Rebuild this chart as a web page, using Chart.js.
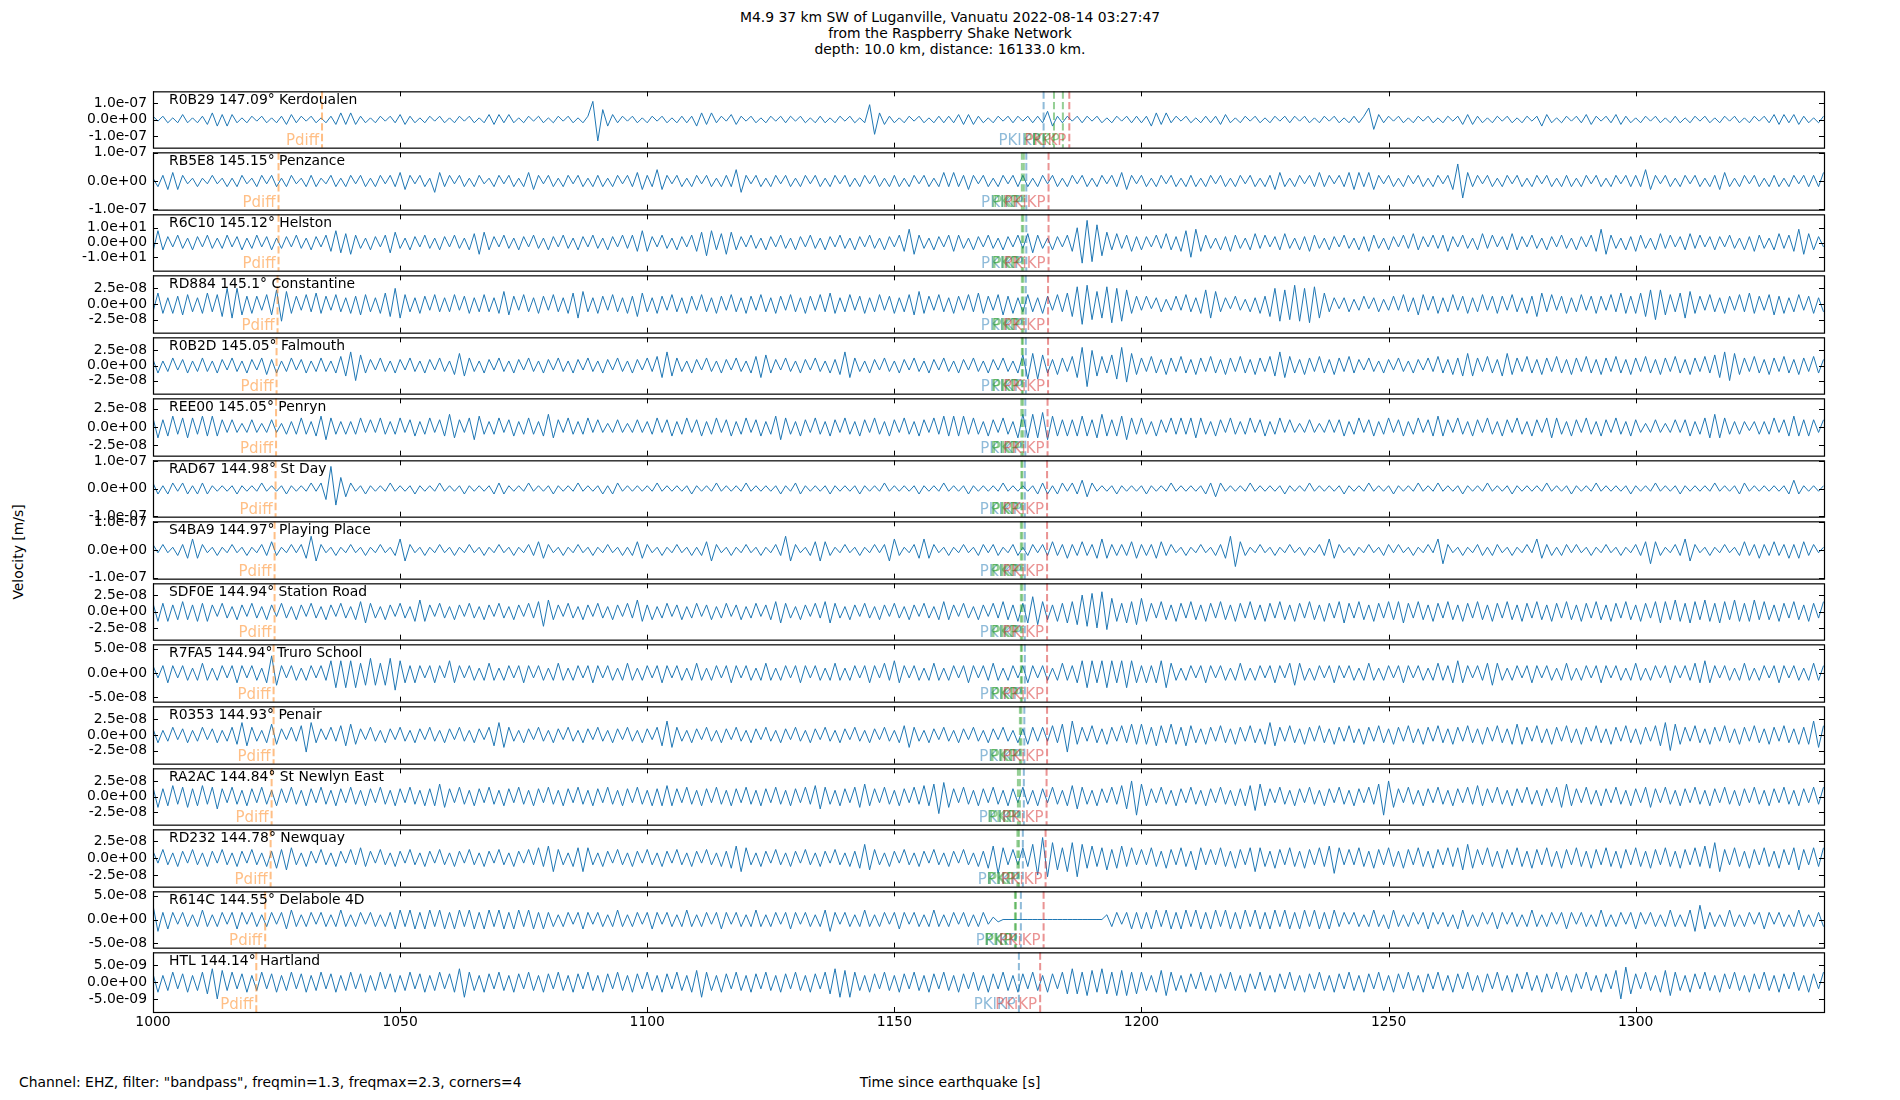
<!DOCTYPE html>
<html>
<head>
<meta charset="utf-8">
<script src="https://cdn.jsdelivr.net/npm/chart.js"></script>
<style>
body{margin:0;background:#fff;}
#fig{position:relative;width:1900px;height:1100px;overflow:hidden;font-family:"DejaVu Sans";color:#000;background:#fff;}
#fig canvas{position:absolute;left:0;}
.txt{position:absolute;font-size:13.9px;line-height:16px;white-space:nowrap;}
</style>
</head>
<body>
<div id="fig">
  <div class="txt" style="top:9px;left:0;width:1900px;text-align:center">M4.9 37 km SW of Luganville, Vanuatu 2022-08-14 03:27:47<br>from the Raspberry Shake Network<br>depth: 10.0 km, distance: 16133.0 km.</div>
  <div class="txt" style="top:1074px;left:19px">Channel: EHZ, filter: "bandpass", freqmin=1.3, freqmax=2.3, corners=4</div>
  <div class="txt" style="top:1074px;left:0;width:1900px;text-align:center">Time since earthquake [s]</div>
  <div class="txt" style="left:17.5px;top:551.5px;transform:translate(-50%,-50%) rotate(-90deg)">Velocity [m/s]</div>
</div>
<script>
// samples: one value per second from t0, in tenths of each panel's tick step
const t0 = 1000, dt = 1;
const xMin = 1000, xMax = 1338.1;
const xTicks = [1000, 1050, 1100, 1150, 1200, 1250, 1300];

const stations = ['R0B29 147.09° Kerdoualen', 'RB5E8 145.15° Penzance', 'R6C10 145.12° Helston',
  'RD884 145.1° Constantine', 'R0B2D 145.05° Falmouth', 'REE00 145.05° Penryn', 'RAD67 144.98° St Day',
  'S4BA9 144.97° Playing Place', 'SDF0E 144.94° Station Road', 'R7FA5 144.94° Truro School',
  'R0353 144.93° Penair', 'RA2AC 144.84° St Newlyn East', 'RD232 144.78° Newquay',
  'R614C 144.55° Delabole 4D', 'HTL 144.14° Hartland'];

const units = [1e-8, 1e-8, 1, 2.5e-9, 2.5e-9, 2.5e-9, 1e-8, 1e-8, 2.5e-9, 5e-9, 2.5e-9, 2.5e-9, 2.5e-9, 5e-9, 5e-10];
const yLims = [1.71e-7, 1.01e-7, 19.1, 4.58e-8, 4.67e-8, 3.95e-8, 1.02e-7, 1.04e-7, 4.28e-8, 5.85e-8, 4.62e-8, 4.53e-8, 4.2e-8, 5.93e-8, 8.9e-9];
const yTicks = [[1e-7, 0, -1e-7], [1e-7, 0, -1e-7], [10, 0, -10], [2.5e-8, 0, -2.5e-8], [2.5e-8, 0, -2.5e-8],
  [2.5e-8, 0, -2.5e-8], [1e-7, 0, -1e-7], [1e-7, 0, -1e-7], [2.5e-8, 0, -2.5e-8], [5e-8, 0, -5e-8],
  [2.5e-8, 0, -2.5e-8], [2.5e-8, 0, -2.5e-8], [2.5e-8, 0, -2.5e-8], [5e-8, 0, -5e-8], [5e-9, 0, -5e-9]];

// phase arrival times per panel [s]
const pdiffT = [1034.2, 1025.4, 1025.4, 1025.2, 1025.0, 1024.9, 1024.8, 1024.6, 1024.6, 1024.4, 1024.4, 1024.0, 1023.8, 1022.7, 1020.9];
const pkikpT = [1180.2, 1176.7, 1176.7, 1176.6, 1176.6, 1176.5, 1176.4, 1176.4, 1176.4, 1176.4, 1176.3, 1176.2, 1176.0, 1175.6, 1175.2];
const pkpT1 = [1182.3, 1175.8, 1175.8, 1175.8, 1175.8, 1175.7, 1175.7, 1175.6, 1175.6, 1175.6, 1175.4, 1175.0, 1174.9, 1174.4, null];
const pkpT2 = [1184.1, 1176.2, 1176.1, 1176.1, 1176.0, 1176.0, 1175.9, 1175.9, 1175.9, 1175.8, 1175.7, 1175.4, 1175.2, 1174.6, null];
const pkikp2T = [1185.4, 1181.2, 1181.2, 1181.1, 1181.1, 1181.0, 1180.9, 1180.9, 1180.9, 1180.9, 1180.9, 1180.8, 1180.6, 1180.2, 1179.5];

const r0b29 = [2,-1,2,-2,1,-2,3,-2,1,-2,2,-3,4,-4,3,-4,3,-2,1,-2,
2,-1,2,-2,1,-2,2,-3,3,-2,2,-1,2,-2,1,-2,2,-3,4,-3,
4,-3,2,-2,1,-2,2,-1,2,-2,3,-3,2,-2,1,-2,2,-1,2,-2,
1,-2,2,-1,2,-2,1,-2,3,-3,3,-2,3,-2,1,-2,2,-1,2,-2,
1,-2,2,-1,2,-2,1,-2,2,11,-13,6,-4,3,-2,2,-1,2,-2,1,
-2,2,-1,2,-2,1,-2,2,-2,2,-4,4,-3,4,-2,2,-1,3,-3,2,
-1,2,-2,1,-2,2,-1,2,-2,2,-1,2,-2,1,-2,2,-2,1,-2,2,
-1,2,-2,1,-2,9,-9,4,-3,2,-2,1,-2,2,-1,2,-2,1,-2,2,
-2,2,-2,3,-3,3,-3,2,-2,1,-2,2,-1,2,-2,2,-1,2,-2,2,
-2,5,-4,2,-2,2,-1,2,-2,2,-1,2,-2,1,-2,2,-1,2,-2,2,
-2,2,-4,4,-3,4,-2,2,-1,2,-2,1,-2,2,-2,2,-3,3,-2,1,
-2,2,-1,2,-2,1,-2,2,-1,2,-2,2,-1,2,-2,1,-2,2,-1,2,
-2,1,-2,2,-2,2,7,-6,3,-2,2,-1,2,-2,1,-2,2,-1,2,-2,
1,-2,2,-1,2,-3,3,-3,2,-2,1,-2,2,-1,2,-2,1,-2,2,-1,
2,-4,3,-2,1,-2,2,-1,2,-2,3,-3,2,-1,2,-2,3,-3,2,-2,
1,-2,2,-1,2,-2,1,-2,2,-2,1,-2,2,-1,2,-2,1,-2,2,-1,
2,-2,1,-2,2,-1,2,-2,3,-3,3,-2,3,-3,2,-2,1,-2,2];

const rb5e8 = [1,-2,2,-3,3,-3,2,-1,1,-2,1,-1,2,-1,1,-2,1,-2,2,-1,
1,-2,2,-1,2,-2,1,-2,2,-1,1,-2,2,-2,1,-1,2,-2,1,-2,
2,-1,2,-2,1,-2,2,-1,2,-2,3,-3,2,-1,2,-2,1,-4,3,-2,
2,-1,2,-2,1,-2,2,-1,1,-2,2,-1,2,-2,1,-2,3,-3,2,-1,
2,-2,1,-2,2,-1,2,-2,1,-2,2,-2,1,-2,2,-1,2,-2,3,-3,
2,-2,4,-3,2,-1,2,-2,1,-2,2,-1,2,-2,1,-2,2,-2,4,-4,
2,-1,2,-2,1,-2,2,-1,2,-2,1,-2,2,-1,2,-2,1,-2,2,-1,
2,-2,1,-2,2,-1,2,-2,1,-2,2,-2,1,-2,2,-1,2,-2,1,-2,
3,-2,3,-2,2,-3,2,-1,2,-2,1,-2,2,-1,2,-2,2,-2,1,-2,
2,-1,2,-2,1,-2,2,-1,2,-2,1,-2,2,-1,2,-2,3,-3,2,-1,
2,-2,1,-2,2,-1,2,-2,1,-2,2,-2,1,-2,2,-1,2,-2,1,-2,
2,-1,2,-2,1,-2,2,-3,3,-2,1,-2,2,-1,2,-2,3,-2,2,-1,
2,-2,3,-3,3,-2,3,-3,2,-1,2,-2,1,-2,2,-1,2,-2,1,-2,
2,-1,2,-3,6,-6,3,-2,2,-1,2,-2,1,-2,2,-1,2,-2,1,-2,
2,-1,2,-2,1,-2,2,-2,1,-2,2,-1,2,-2,1,-2,2,-1,2,-2,
2,-2,4,-3,2,-1,2,-2,1,-2,2,-1,2,-2,1,-2,2,-3,3,-2,
1,-2,2,-1,2,-2,1,-2,2,-2,1,-2,2,-1,2,-2,2,-2,3];

const r6c10 = [-6,8,-5,4,-3,5,-4,3,-5,4,-3,5,-4,3,-4,5,-3,4,-5,3,
-4,5,-3,4,-5,3,-4,4,-3,5,-4,3,-5,4,-3,5,-6,8,-7,6,
-8,5,-4,3,-5,4,-3,5,-7,7,-4,3,-5,4,-3,5,-4,3,-5,4,
-3,5,-4,3,-5,6,-8,7,-5,4,-3,5,-4,3,-5,4,-3,5,-4,3,
-5,4,-3,5,-4,3,-5,4,-3,5,-4,3,-5,4,-3,5,-4,5,-6,8,
-6,4,-3,5,-4,3,-5,4,-3,5,-6,7,-9,8,-5,6,-8,7,-5,4,
-3,5,-4,3,-5,4,-3,5,-4,3,-5,4,-3,5,-4,3,-5,4,-3,5,
-4,3,-5,4,-3,5,-4,3,-5,4,-3,5,-6,9,-8,5,-4,3,-5,4,
-3,5,-6,5,-4,3,-5,4,-3,5,-4,3,-5,4,-3,5,-4,6,-7,5,
-4,3,-5,4,-3,5,-6,10,-14,15,-13,12,-9,7,-5,6,-4,5,-6,4,
-5,4,-3,5,-4,6,-5,4,-6,8,-10,9,-6,5,-4,3,-5,4,-6,5,
-4,3,-5,6,-4,5,-3,4,-5,6,-4,3,-5,4,-6,5,-4,3,-5,4,
-3,5,-4,3,-5,4,-6,5,-4,3,-5,4,-3,5,-4,6,-5,4,-3,5,
-4,5,-6,4,-3,5,-4,3,-5,6,-4,5,-3,4,-5,6,-5,4,-3,5,
-4,3,-5,4,-3,5,-4,3,-5,4,-3,5,-6,9,-8,5,-4,3,-5,4,
-6,5,-4,3,-5,6,-4,5,-3,4,-5,6,-4,5,-3,4,-5,4,-3,5,
-4,3,-5,4,-6,5,-4,3,-5,6,-4,5,-6,9,-8,6,-5,4,-3];

const rd884 = [-5,7,-6,4,-6,5,-7,6,-5,4,-6,7,-5,6,-8,10,-9,10,-7,5,
-6,5,-4,6,-7,9,-11,8,-6,5,-4,6,-5,7,-6,5,-4,6,-5,4,
-6,5,-7,6,-5,4,-6,7,-8,10,-9,6,-5,4,-6,5,-4,6,-5,4,
-5,6,-4,5,-6,4,-5,6,-5,4,-6,8,-7,5,-4,6,-5,4,-6,5,
-4,6,-5,4,-6,7,-9,8,-5,4,-6,5,-4,6,-5,4,-6,5,-8,7,
-5,4,-6,5,-4,6,-5,4,-6,5,-4,6,-5,4,-6,5,-4,6,-5,4,
-6,5,-4,6,-5,4,-6,5,-4,6,-5,4,-6,5,-4,6,-5,7,-6,4,
-5,6,-4,5,-6,4,-5,6,-4,5,-6,4,-5,6,-7,8,-6,5,-4,6,
-5,4,-6,5,-4,6,-5,7,-6,5,-4,6,-7,5,-6,4,-5,6,-5,4,
-6,5,-4,6,-5,7,-8,11,-13,12,-10,8,-9,11,-12,10,-11,9,-6,5,
-4,5,-3,4,-5,3,-4,5,-4,6,-5,4,-6,9,-9,8,-5,4,-3,5,
-4,3,-5,4,-6,5,-8,10,-11,9,-10,12,-11,10,-12,11,-9,7,-5,4,
-3,4,-5,3,-4,5,-3,4,-5,3,-4,5,-4,6,-5,4,-7,6,-4,5,
-6,4,-5,6,-4,5,-6,4,-5,6,-4,5,-6,5,-4,6,-5,4,-6,5,
-8,7,-5,6,-4,5,-6,4,-5,6,-4,5,-6,5,-4,6,-5,7,-6,5,
-6,7,-8,9,-10,9,-7,6,-5,7,-9,8,-6,5,-4,6,-5,4,-6,5,
-4,6,-5,7,-6,5,-4,6,-7,5,-6,4,-5,6,-4,5,-6,4,-5];

const r0b2d = [4,-5,3,-4,5,-3,4,-5,3,-4,5,-4,3,-5,4,-3,5,-4,3,-5,
4,-3,5,-6,4,-5,3,-4,5,-3,4,-5,3,-4,5,-4,3,-5,6,-7,
9,-10,7,-5,4,-3,5,-4,3,-5,4,-3,5,-4,3,-5,4,-3,5,-4,
3,-6,8,-7,5,-4,3,-5,4,-3,5,-4,3,-5,4,-3,5,-4,3,-5,
4,-3,5,-4,3,-5,4,-3,5,-4,3,-5,4,-3,5,-4,3,-5,4,-3,
5,-4,6,-8,9,-7,5,-4,3,-5,4,-3,5,-4,3,-5,4,-3,5,-4,
3,-5,6,-8,7,-5,4,-3,5,-4,3,-5,4,-3,5,-4,3,-5,4,-6,
9,-8,5,-4,3,-5,4,-3,5,-4,3,-5,4,-3,5,-4,3,-5,4,-3,
5,-4,3,-5,4,-3,5,-4,3,-5,4,-3,5,-4,3,-5,7,-9,8,-9,
7,-5,4,-6,5,-4,6,-8,12,-14,10,-7,6,-5,7,-9,12,-11,8,-6,
5,-4,6,-5,4,-6,5,-4,6,-5,4,-6,5,-4,6,-5,4,-6,5,-4,
6,-5,4,-6,5,-4,6,-7,9,-8,6,-5,4,-6,5,-4,6,-5,4,-6,
5,-4,6,-5,4,-3,5,-4,3,-5,4,-3,5,-4,3,-5,4,-3,5,-4,
6,-5,4,-6,5,-7,8,-7,5,-4,6,-5,4,-7,8,-6,5,-4,6,-5,
4,-6,5,-4,6,-5,4,-6,5,-4,6,-5,4,-6,5,-4,6,-5,4,-6,
5,-4,6,-5,4,-6,5,-4,6,-5,4,-6,5,-4,6,-5,7,-8,9,-10,
8,-6,5,-4,6,-5,4,-6,5,-4,6,-5,4,-6,5,-4,6,-5,4];

const ree00 = [5,-6,4,-5,6,-4,5,-6,5,-4,6,-5,6,-5,4,-3,4,-3,2,-3,
4,-3,2,-3,4,-3,2,-4,3,-4,5,-4,3,-5,6,-7,5,-4,3,-4,
3,-4,5,-3,4,-3,5,-4,3,-4,5,-3,4,-5,3,-4,5,-3,4,-5,
7,-6,4,-3,5,-7,6,-4,3,-4,5,-3,4,-5,3,-4,5,-4,3,-5,
7,-6,4,-3,5,-4,3,-4,5,-3,4,-3,2,-3,4,-3,2,-3,4,-3,
3,-4,5,-3,4,-5,3,-4,5,-3,4,-5,3,-4,5,-3,4,-5,3,-4,
5,-3,4,-5,3,-4,6,-7,5,-4,3,-5,4,-3,5,-4,3,-5,4,-3,
5,-4,3,-5,4,-3,5,-4,3,-5,4,-3,5,-4,3,-5,4,-3,5,-4,
6,-5,6,-5,6,-4,5,-4,3,-5,4,-3,5,-4,3,-6,7,-6,7,-6,
8,-7,6,-5,4,-5,4,-5,6,-5,4,-6,7,-5,4,-5,6,-7,5,-4,
5,-4,3,-5,4,-3,5,-4,5,-4,5,-6,5,-4,3,-5,4,-3,5,-4,
3,-4,5,-3,4,-5,3,-4,5,-3,4,-3,2,-3,4,-3,2,-3,4,-3,
4,-5,3,-4,5,-3,4,-5,3,-4,5,-3,4,-5,3,-4,5,-3,4,-5,
6,-5,4,-3,5,-4,3,-5,4,-3,5,-4,3,-5,4,-3,5,-4,3,-5,
4,-3,5,-6,5,-4,3,-5,4,-3,5,-4,3,-5,4,-3,5,-4,3,-5,
4,-3,2,-3,4,-3,2,-3,4,-3,4,-5,3,-4,5,-6,7,-6,5,-4,
3,-4,3,-2,3,-4,3,-4,5,-3,4,-5,6,-5,4,-5,4,-3,4];

const rad67 = [2,-2,1,-2,2,-1,2,-2,1,-2,2,-2,1,-1,1,-1,1,-2,1,-1,
1,-1,2,-1,1,-1,1,-2,1,-1,1,-1,2,-1,2,-4,8,-6,4,-3,
2,-1,1,-2,1,-1,1,-1,2,-1,1,-1,1,-2,1,-1,1,-1,2,-1,
1,-1,1,-2,1,-1,1,-1,1,-2,2,-2,1,-1,1,-1,2,-1,1,-1,
1,-2,1,-1,1,-1,2,-1,1,-1,1,-2,1,-2,2,-1,1,-1,1,-1,
1,-1,2,-1,1,-1,1,-1,1,-2,1,-1,1,-1,2,-1,1,-1,1,-1,
2,-1,1,-1,1,-1,1,-2,1,-1,2,-2,1,-1,1,-1,1,-2,1,-1,
1,-1,1,-2,1,-1,1,-1,2,-1,1,-1,1,-1,1,-2,1,-1,1,-1,
2,-1,1,-1,1,-2,1,-1,1,-1,1,-1,2,-1,1,-1,1,-1,1,-2,
2,-2,1,-2,2,-1,2,-2,3,-3,2,-1,1,-1,1,-2,1,-1,1,-1,
1,-2,1,-1,1,-1,2,-1,1,-1,1,-1,1,-2,2,-3,2,-1,1,-1,
1,-1,2,-1,1,-1,1,-1,1,-2,1,-1,1,-1,2,-1,1,-1,1,-1,
1,-2,1,-1,1,-1,2,-1,1,-1,1,-2,1,-1,1,-1,2,-1,1,-1,
2,-1,1,-1,1,-2,1,-1,1,-1,2,-1,1,-1,1,-2,1,-1,1,-1,
1,-1,2,-1,1,-1,1,-2,1,-1,1,-1,2,-1,1,-1,1,-1,1,-2,
1,-1,1,-1,2,-1,1,-1,1,-2,1,-1,1,-1,1,-1,2,-1,1,-1,
1,-2,2,-1,1,-1,1,-1,1,-1,1,-2,3,-2,1,-1,1,-1,1];

const s4ba9 = [2,-1,2,-1,1,-2,2,-3,4,-3,2,-1,1,-2,1,-1,2,-1,1,-2,
1,-1,2,-2,3,-2,1,-1,2,-1,2,-3,5,-4,2,-1,1,-2,1,-1,
2,-1,1,-2,1,-1,2,-1,1,-2,4,-4,2,-1,1,-2,1,-1,2,-1,
1,-2,1,-1,2,-1,1,-2,1,-1,2,-1,1,-2,1,-1,2,-2,3,-3,
2,-1,1,-2,1,-1,2,-1,1,-2,1,-1,2,-1,1,-2,1,-2,3,-3,
2,-1,1,-2,1,-1,2,-1,1,-2,1,-2,3,-4,2,-1,1,-2,1,-1,
2,-1,1,-2,1,-1,2,-2,5,-4,2,-1,1,-2,3,-4,3,-2,1,-1,
2,-1,1,-2,1,-1,2,-1,2,-4,4,-2,1,-1,2,-3,4,-3,2,-1,
1,-2,1,-1,2,-1,1,-2,2,-1,2,-2,1,-1,2,-2,1,-2,2,-1,
2,-2,3,-2,2,-3,2,-2,3,-2,2,-3,4,-3,2,-2,2,-2,3,-3,
2,-2,2,-3,3,-2,2,-1,1,-2,1,-1,2,-1,1,-2,2,-3,5,-6,
3,-2,1,-1,2,-1,1,-2,1,-1,2,-1,1,-2,1,-1,2,-2,4,-3,
2,-1,1,-2,1,-1,2,-1,1,-2,2,-1,2,-1,1,-2,1,-1,2,-1,
4,-5,2,-1,1,-2,1,-1,2,-2,1,-2,2,-1,1,-2,1,-1,2,-1,
4,-3,2,-2,1,-2,2,-1,2,-1,1,-2,1,-1,2,-1,1,-2,1,-1,
2,-2,3,-5,3,-2,1,-1,2,-2,4,-4,2,-1,1,-2,1,-1,2,-1,
1,-2,3,-2,2,-3,2,-2,3,-2,2,-3,2,-3,3,-2,2,-1,1];

const sdf0e = [5,-6,5,-6,4,-5,6,-5,4,-6,5,-6,4,-3,5,-4,3,-5,4,-3,
5,-4,3,-5,4,-3,5,-4,3,-5,4,-3,5,-4,3,-5,4,-3,5,-4,
3,-5,6,-7,5,-4,3,-5,4,-3,5,-4,3,-6,7,-6,4,-3,5,-4,
3,-5,4,-3,5,-4,3,-5,4,-3,5,-4,3,-5,4,-3,5,-4,6,-9,
7,-5,4,-3,5,-4,3,-5,4,-3,5,-4,3,-5,4,-3,5,-4,7,-6,
4,-5,3,-4,5,-3,4,-5,3,-4,5,-3,4,-5,3,-4,5,-3,4,-5,
3,-4,5,-3,4,-5,6,-7,5,-4,3,-5,4,-3,5,-4,6,-7,5,-4,
3,-5,4,-3,5,-4,3,-5,4,-3,5,-4,3,-5,4,-3,5,-4,3,-5,
6,-5,4,-3,5,-4,3,-5,4,-3,5,-4,6,-5,4,-6,5,-7,9,-8,
6,-5,4,-6,5,-7,6,-8,10,-9,11,-10,12,-11,8,-6,5,-7,6,-8,
8,-6,5,-4,6,-5,4,-6,5,-4,6,-5,4,-6,5,-4,6,-5,4,-6,
5,-4,6,-5,4,-6,5,-4,6,-5,4,-6,5,-4,6,-5,4,-6,5,-4,
6,-7,5,-4,6,-5,4,-6,5,-4,6,-5,6,-7,5,-4,6,-5,4,-6,
5,-4,6,-5,4,-6,5,-4,6,-5,4,-6,5,-4,6,-5,4,-6,5,-4,
6,-5,4,-6,5,-4,6,-5,4,-6,5,-4,6,-5,4,-6,5,-4,6,-5,
4,-6,5,-4,6,-7,6,-5,7,-6,5,-7,6,-5,7,-6,5,-7,6,-5,
7,-6,5,-6,7,-5,6,-5,4,-6,5,-4,6,-5,4,-6,5,-4,6];

const r7fa5 = [3,-2,3,-4,3,-2,3,-3,2,-3,4,-3,2,-3,3,-2,3,-4,3,-2,
3,-3,2,-4,7,-5,3,-2,3,-3,2,-3,3,-2,3,-3,5,-6,5,-6,
5,-6,4,-5,6,-5,4,-5,6,-7,5,-4,3,-4,3,-2,3,-4,3,-2,
5,-4,3,-2,3,-3,2,-3,4,-3,2,-3,3,-2,3,-4,3,-2,3,-3,
2,-3,4,-3,2,-3,3,-2,3,-4,3,-2,3,-3,2,-3,4,-3,2,-3,
3,-2,3,-4,3,-2,3,-3,2,-3,4,-3,2,-3,3,-2,3,-4,3,-2,
3,-3,2,-3,4,-3,2,-3,3,-2,3,-4,3,-2,3,-3,2,-3,4,-3,
2,-3,3,-2,3,-4,3,-2,4,-3,5,-4,3,-2,3,-3,2,-3,4,-3,
2,-3,3,-2,3,-4,3,-2,3,-3,4,-3,2,-3,3,-2,3,-4,3,-2,
3,-3,2,-3,4,-3,3,-4,5,-6,5,-4,5,-6,5,-4,5,-6,5,-4,
3,-4,3,-4,5,-6,4,-3,2,-3,3,-2,3,-4,3,-2,3,-3,2,-3,
4,-3,2,-3,3,-2,3,-4,3,-2,4,-5,4,-3,2,-3,3,-2,3,-4,
3,-2,3,-3,2,-3,4,-3,2,-3,3,-2,3,-4,3,-2,3,-3,2,-3,
4,-3,3,-4,5,-4,3,-2,3,-3,4,-5,4,-3,2,-3,3,-2,3,-4,
3,-2,3,-3,2,-3,4,-3,2,-3,3,-2,3,-4,3,-2,3,-3,2,-3,
4,-3,2,-3,3,-2,3,-4,3,-2,3,-3,4,-4,5,-4,3,-2,3,-3,
2,-3,4,-3,2,-3,3,-2,3,-4,3,-2,3,-3,2,-3,4,-3,3];

const r0353 = [4,-5,3,-4,5,-3,4,-5,3,-4,5,-3,4,-5,3,-4,5,-6,8,-7,
5,-4,3,-5,7,-6,4,-3,5,-4,6,-11,8,-5,4,-3,5,-4,6,-7,
7,-6,4,-3,5,-4,3,-5,4,-3,5,-4,3,-5,4,-3,5,-4,3,-5,
4,-3,5,-4,3,-5,4,-3,5,-7,8,-8,5,-4,3,-5,4,-3,5,-4,
3,-5,4,-3,5,-4,3,-5,4,-3,5,-4,3,-5,4,-3,5,-4,3,-5,
4,-3,5,-7,9,-8,5,-4,3,-5,4,-3,5,-4,3,-5,4,-3,5,-4,
3,-5,4,-3,5,-4,3,-5,4,-3,5,-4,3,-5,4,-3,5,-4,3,-5,
4,-3,5,-4,3,-5,4,-3,5,-4,3,-5,6,-8,5,-4,3,-5,4,-3,
5,-4,3,-5,4,-3,5,-4,3,-5,4,-3,5,-4,3,-5,4,-6,5,-4,
5,-4,6,-5,7,-11,9,-6,5,-4,6,-5,4,-6,5,-4,6,-5,7,-6,
7,-6,5,-7,6,-5,7,-6,5,-7,6,-5,4,-6,5,-4,6,-5,4,-6,
5,-4,6,-5,4,-6,8,-7,5,-4,6,-5,4,-6,5,-4,6,-5,4,-6,
5,-4,6,-5,4,-6,5,-4,6,-5,4,-6,5,-4,6,-5,4,-6,5,-4,
6,-5,4,-6,5,-4,6,-5,4,-6,5,-4,6,-5,4,-6,7,-6,5,-4,
6,-5,4,-6,5,-4,6,-5,4,-6,5,-4,6,-5,4,-6,5,-4,6,-5,
4,-6,5,-4,6,-7,8,-10,7,-6,5,-4,6,-5,4,-6,5,-4,6,-5,
4,-6,5,-4,6,-5,4,-6,5,-4,6,-5,4,-6,5,-6,9,-8,6];

const ra2ac = [6,-7,5,-6,7,-5,6,-7,5,-6,7,-5,6,-8,5,-4,6,-5,4,-6,
5,-4,6,-5,4,-6,5,-4,6,-5,4,-6,5,-4,6,-5,4,-6,5,-4,
6,-5,4,-6,5,-4,6,-5,4,-6,5,-4,6,-5,4,-6,5,-6,8,-7,
5,-4,6,-5,4,-6,5,-4,6,-5,4,-6,5,-4,6,-5,4,-6,5,-4,
6,-5,4,-6,5,-4,6,-5,4,-6,5,-4,6,-5,4,-6,5,-4,6,-5,
4,-6,5,-6,7,-6,5,-4,6,-5,4,-6,5,-4,6,-5,4,-6,5,-4,
6,-5,4,-6,5,-4,6,-5,4,-6,5,-4,6,-5,7,-8,6,-5,4,-6,
5,-4,6,-7,8,-6,5,-4,6,-5,4,-6,5,-4,6,-5,7,-6,8,-11,
9,-7,5,-4,6,-5,4,-6,5,-4,6,-5,4,-6,5,-4,6,-5,4,-6,
5,-4,6,-5,4,-6,7,-8,6,-5,4,-6,5,-4,6,-5,7,-8,10,-12,
8,-6,5,-4,6,-5,4,-6,5,-4,6,-5,4,-6,5,-4,6,-5,4,-6,
5,-6,7,-9,8,-6,5,-4,6,-5,4,-6,5,-4,6,-5,4,-6,5,-4,
6,-5,4,-6,5,-4,6,-5,8,-12,10,-7,5,-4,6,-5,4,-6,5,-4,
6,-5,4,-6,5,-4,6,-5,7,-6,5,-4,6,-5,4,-6,5,-4,6,-5,
4,-6,5,-4,6,-7,8,-6,5,-4,6,-5,4,-6,5,-4,6,-5,4,-6,
5,-4,6,-7,5,-4,6,-5,4,-6,5,-4,6,-5,4,-6,5,-4,6,-5,
4,-6,5,-4,6,-5,4,-6,5,-4,6,-5,4,-6,5,-4,6,-5,6];

const rd232 = [4,-3,5,-4,3,-5,4,-3,5,-4,3,-5,4,-3,5,-4,3,-5,4,-3,
5,-4,3,-5,4,-6,5,-7,6,-4,3,-5,4,-3,5,-4,3,-5,4,-3,
5,-4,6,-5,4,-3,5,-4,3,-5,4,-3,5,-4,3,-5,4,-3,5,-4,
3,-5,4,-3,5,-4,3,-5,4,-3,5,-4,3,-5,4,-3,5,-4,6,-5,
7,-8,5,-4,3,-5,6,-8,6,-4,3,-5,4,-3,5,-4,3,-5,4,-3,
5,-4,3,-5,4,-3,5,-4,3,-5,4,-3,5,-4,3,-5,4,-6,7,-8,
6,-4,3,-5,4,-3,5,-4,3,-5,4,-3,5,-4,3,-5,4,-3,5,-4,
3,-5,4,-6,8,-7,5,-4,3,-5,4,-3,5,-4,3,-5,4,-3,5,-4,
3,-5,4,-3,5,-4,3,-5,4,-6,7,-9,6,-4,5,-4,6,-5,8,-10,
12,-11,9,-7,6,-8,9,-11,8,-6,7,-5,6,-7,5,-6,7,-5,6,-4,
5,-4,6,-5,4,-6,5,-4,6,-5,4,-7,6,-4,5,-4,6,-5,4,-6,
5,-4,6,-8,6,-5,4,-6,5,-4,6,-5,4,-6,5,-4,6,-5,7,-9,
6,-4,5,-4,6,-5,4,-6,5,-4,6,-5,4,-6,5,-4,6,-5,4,-6,
5,-4,6,-5,6,-7,8,-6,5,-4,6,-5,4,-6,5,-4,6,-5,4,-6,
5,-4,6,-5,4,-6,5,-4,6,-5,4,-6,5,-4,6,-5,4,-6,5,-4,
6,-5,4,-6,5,-4,6,-5,4,-6,5,-4,6,-5,7,-6,9,-8,5,-4,
6,-5,4,-6,5,-4,6,-5,4,-6,5,-4,6,-7,5,-4,6,-5,6];

const r614c = [6,-5,3,-4,3,-2,3,-3,2,-3,4,-3,2,-3,3,-2,3,-4,3,-2,
3,-3,2,-3,3,-2,3,-4,4,-3,2,-3,3,-2,3,-3,2,-3,4,-3,
2,-3,3,-2,3,-3,2,-3,3,-4,4,-3,4,-4,3,-4,4,-3,4,-4,
3,-4,4,-3,4,-4,3,-4,4,-3,4,-4,3,-4,4,-3,4,-4,3,-4,
3,-3,2,-3,3,-2,3,-4,3,-2,3,-3,2,-3,4,-3,2,-3,3,-2,
3,-4,3,-2,3,-3,2,-3,4,-3,2,-3,3,-2,3,-4,3,-2,3,-3,
2,-3,4,-3,2,-3,3,-2,3,-4,3,-2,3,-3,2,-3,4,-5,3,-2,
3,-3,2,-3,4,-3,2,-3,3,-2,3,-4,3,-2,3,-3,2,-3,4,-3,
2,-3,3,-2,3,-3,2,-3,3,-2,1,-1,0,0,0,0,0,0,0,0,
0,0,0,0,0,0,0,0,0,0,0,0,0,2,-3,3,-2,3,-4,3,
-4,3,-4,4,-3,4,-4,3,-4,4,-3,4,-4,3,-4,4,-3,4,-4,3,
-4,4,-3,4,-4,3,-4,4,-3,4,-4,3,-4,4,-3,4,-4,3,-4,4,
-3,3,-2,3,-3,2,-3,4,-3,2,-4,4,-3,2,-3,3,-2,3,-4,3,
-2,3,-3,2,-4,4,-3,2,-3,3,-2,3,-4,3,-2,3,-3,2,-3,4,
-3,2,-3,3,-2,3,-4,3,-2,3,-3,2,-3,4,-3,2,-3,3,-2,3,
-4,3,-2,3,-3,2,-3,4,-3,2,-3,4,-5,6,-4,3,-3,2,-3,4,
-3,2,-3,3,-2,3,-4,3,-2,3,-3,2,-3,4,-3,2,-3,3,-3];

const htl = [5,-6,4,-5,6,-4,5,-6,4,-5,6,-7,8,-10,7,-5,6,-4,5,-6,
4,-5,6,-4,5,-6,4,-5,6,-4,5,-6,4,-5,6,-4,5,-6,4,-5,
6,-4,5,-6,4,-5,6,-4,5,-6,4,-5,6,-4,5,-6,4,-5,6,-4,
5,-6,8,-9,6,-5,4,-6,5,-4,6,-5,4,-6,5,-4,6,-5,4,-6,
5,-4,6,-5,4,-6,5,-4,6,-5,4,-6,5,-4,6,-5,4,-6,5,-4,
6,-5,4,-6,5,-4,6,-5,4,-6,7,-9,6,-5,4,-6,5,-4,6,-5,
4,-6,5,-4,6,-5,4,-6,5,-4,6,-5,4,-6,5,-4,6,-7,8,-9,
7,-9,6,-5,4,-6,5,-4,6,-5,4,-6,5,-4,6,-5,4,-6,5,-4,
6,-5,4,-6,5,-4,6,-5,4,-6,5,-4,6,-5,4,-6,5,-4,6,-5,
4,-6,5,-4,6,-7,8,-7,6,-8,7,-6,8,-7,6,-8,7,-8,6,-7,
6,-5,4,-6,7,-8,6,-5,4,-6,5,-4,6,-5,4,-6,5,-4,6,-5,
4,-6,5,-4,6,-5,4,-6,5,-4,6,-5,4,-6,5,-4,6,-5,4,-6,
5,-4,6,-5,4,-6,5,-4,6,-5,4,-6,5,-4,6,-5,4,-6,5,-4,
6,-5,4,-6,5,-4,6,-5,4,-6,5,-4,6,-5,4,-6,5,-4,6,-5,
4,-6,5,-4,6,-5,4,-6,5,-4,6,-5,4,-6,5,-4,7,-10,9,-7,
5,-4,6,-5,4,-6,7,-8,6,-5,4,-6,5,-4,6,-5,4,-6,5,-4,
6,-5,4,-6,5,-4,6,-5,4,-6,5,-4,6,-5,4,-6,5,-4,6];

const traces = [r0b29, rb5e8, r6c10, rd884, r0b2d, ree00, rad67, s4ba9, sdf0e, r7fa5, r0353, ra2ac, rd232, r614c, htl];

const phases = [
  {name: 'Pdiff', times: pdiffT, color: 'rgba(255,127,14,0.5)'},
  {name: 'PKIKP', times: pkikpT, color: 'rgba(31,119,180,0.5)'},
  {name: 'PKP', times: pkpT1, color: 'rgba(44,160,44,0.5)'},
  {name: 'PKP', times: pkpT2, color: 'rgba(44,160,44,0.5)'},
  {name: 'PKiKP', times: pkikp2T, color: 'rgba(214,39,40,0.5)'}
];

// layout of the stacked panels
const plotLeft = 153, plotRight = 1824, top0 = 88.5, panelH = 61.55;
const padT = 12, padB = 12, xAxisH = 30;
const FONT = '"DejaVu Sans"';
Chart.defaults.font.family = FONT;
Chart.defaults.color = '#000';

function sci(v) {
  if (v === 0) return '0.0e+00';
  const [m, e] = v.toExponential(1).split('e');
  const n = parseInt(e, 10);
  return m + 'e' + (n < 0 ? '-' : '+') + String(Math.abs(n)).padStart(2, '0');
}

function panelDeco(i) {
  return {
    id: 'deco' + i,
    afterDatasetsDraw(chart) {
      const ctx = chart.ctx, a = chart.chartArea, x = chart.scales.x, y = chart.scales.y;
      ctx.save();
      // phase markers
      ctx.lineWidth = 2;
      ctx.setLineDash([7.4, 3.2]);
      phases.forEach(ph => {
        const t = ph.times[i];
        if (t == null) return;
        const px = x.getPixelForValue(t);
        ctx.strokeStyle = ph.color;
        ctx.beginPath(); ctx.moveTo(px, a.top); ctx.lineTo(px, a.bottom); ctx.stroke();
      });
      ctx.setLineDash([]);
      ctx.font = '15px ' + FONT;
      ctx.textAlign = 'right';
      ctx.textBaseline = 'alphabetic';
      phases.forEach(ph => {
        const t = ph.times[i];
        if (t == null) return;
        ctx.fillStyle = ph.color;
        ctx.fillText(ph.name, x.getPixelForValue(t) - 3, a.bottom - 3);
      });
      // station label
      ctx.fillStyle = '#000';
      ctx.font = '13.9px ' + FONT;
      ctx.textAlign = 'left';
      ctx.fillText(stations[i], a.left + 16, a.top + 12.5);
      // frame and inward ticks
      ctx.strokeStyle = '#000';
      ctx.lineWidth = 1.2;
      ctx.strokeRect(a.left + 0.5, a.top + 0.5, a.right - a.left, a.bottom - a.top);
      ctx.lineWidth = 1;
      ctx.beginPath();
      xTicks.forEach(v => {
        const px = Math.round(x.getPixelForValue(v)) + 0.5;
        ctx.moveTo(px, a.top); ctx.lineTo(px, a.top + 5);
        ctx.moveTo(px, a.bottom); ctx.lineTo(px, a.bottom - 5);
      });
      yTicks[i].forEach(v => {
        const py = Math.round(y.getPixelForValue(v)) + 0.5;
        ctx.moveTo(a.left, py); ctx.lineTo(a.left + 5, py);
        ctx.moveTo(a.right, py); ctx.lineTo(a.right - 5, py);
      });
      ctx.stroke();
      ctx.restore();
    }
  };
}

const fig = document.getElementById('fig');
traces.forEach((vals, i) => {
  const last = i === traces.length - 1;
  const yTop = Math.round(top0 + i * panelH);
  const yBot = Math.round(top0 + (i + 1) * panelH);
  const cv = document.createElement('canvas');
  cv.width = 1900;
  cv.height = (yBot - yTop) + padT + (last ? xAxisH : padB);
  cv.style.top = (yTop - padT) + 'px';
  fig.appendChild(cv);
  new Chart(cv, {
    type: 'line',
    data: {
      datasets: [{
        data: vals.map((v, k) => ({x: t0 + k * dt, y: v * units[i]})),
        borderColor: '#1f77b4', borderWidth: 1, pointRadius: 0, tension: 0, fill: false
      }]
    },
    options: {
      responsive: false, animation: false, devicePixelRatio: 1, parsing: false, events: [],
      layout: {padding: {left: 0, right: 1900 - plotRight, top: padT, bottom: last ? 0 : padB}},
      plugins: {legend: {display: false}, tooltip: {enabled: false}, title: {display: false}},
      scales: {
        x: {
          type: 'linear', min: xMin, max: xMax, display: last,
          grid: {display: false, drawTicks: false}, border: {display: false},
          afterBuildTicks: s => { s.ticks = xTicks.map(v => ({value: v})); },
          afterFit: s => { s.height = last ? xAxisH : 0; },
          ticks: {font: {size: 13.9}, color: '#000', padding: 2, maxRotation: 0, autoSkip: false, callback: v => String(v)}
        },
        y: {
          type: 'linear', min: -yLims[i], max: yLims[i],
          grid: {display: false, drawTicks: false}, border: {display: false},
          afterBuildTicks: s => { s.ticks = yTicks[i].map(v => ({value: v})); },
          afterFit: s => { s.width = plotLeft; },
          ticks: {font: {size: 13.9}, color: '#000', padding: 6, autoSkip: false, callback: v => sci(v)}
        }
      }
    },
    plugins: [panelDeco(i)]
  });
});
</script>
</body>
</html>
